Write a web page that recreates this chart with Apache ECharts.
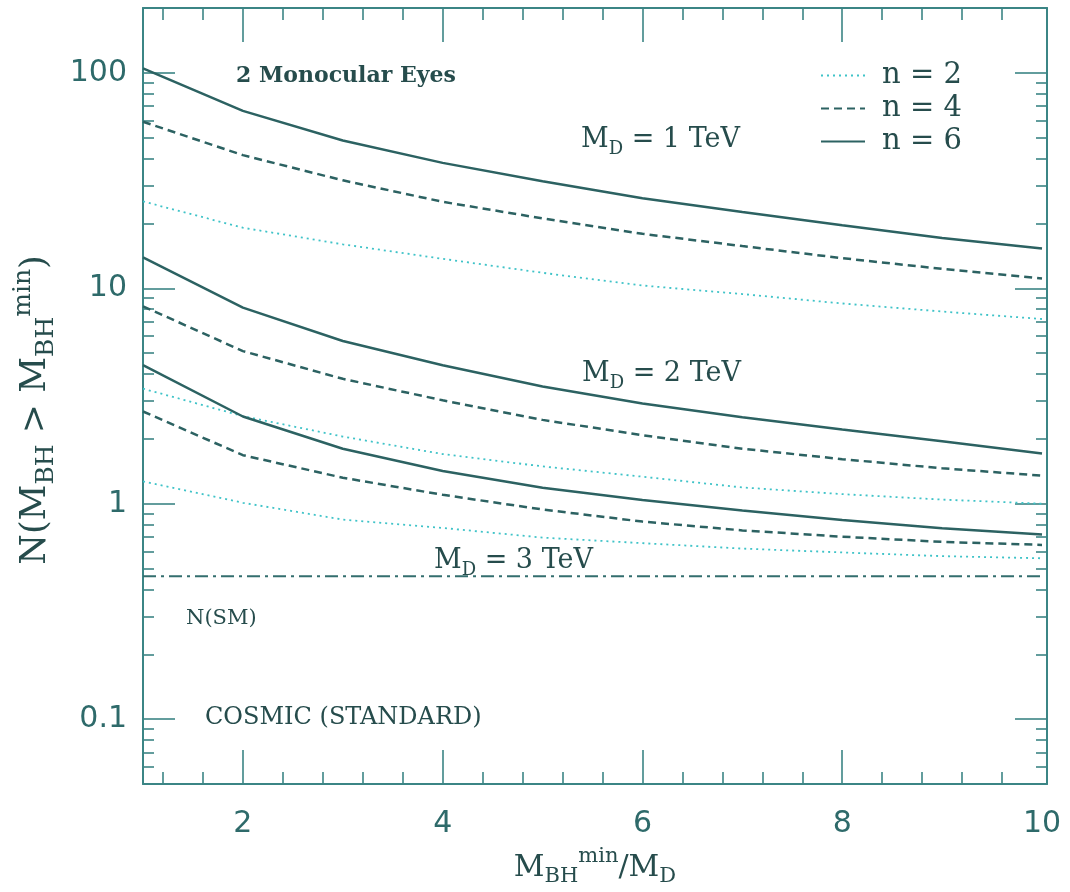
<!DOCTYPE html>
<html>
<head>
<meta charset="utf-8">
<script src="https://cdn.jsdelivr.net/npm/echarts@6/dist/echarts.min.js"></script>
<style>
html,body{margin:0;padding:0;background:#fff;}
#c{width:1070px;height:892px;}
</style>
</head>
<body>
<div id="c"></div>
<script>
// ---- data ----
const xValues = [1, 2, 3, 4, 5, 6, 7, 8, 9, 10];
// M_D = 1 TeV
const md1_n6 = [105, 66.6, 48.5, 38.2, 31.4, 26.2, 22.6, 19.6, 17.1, 15.3];
const md1_n4 = [59.3, 41.5, 31.7, 25.2, 21.1, 17.9, 15.7, 13.8, 12.3, 11.1];
const md1_n2 = [25.3, 19.1, 16.0, 13.7, 11.8, 10.3, 9.4, 8.5, 7.8, 7.2];
// M_D = 2 TeV
const md2_n6 = [13.9, 8.13, 5.69, 4.39, 3.50, 2.92, 2.52, 2.21, 1.95, 1.71];
const md2_n4 = [8.25, 5.11, 3.80, 3.02, 2.45, 2.08, 1.80, 1.61, 1.46, 1.35];
const md2_n2 = [3.42, 2.55, 2.05, 1.70, 1.49, 1.335, 1.19, 1.108, 1.045, 1.0];
// M_D = 3 TeV
const md3_n6 = [4.40, 2.54, 1.80, 1.42, 1.185, 1.04, 0.93, 0.84, 0.77, 0.72];
const md3_n4 = [2.68, 1.68, 1.32, 1.10, 0.94, 0.826, 0.752, 0.703, 0.665, 0.644];
const md3_n2 = [1.27, 1.01, 0.844, 0.772, 0.696, 0.656, 0.619, 0.594, 0.571, 0.558];
// Standard model
const smX = [1, 10];
const smY = [0.46, 0.46];

const legendNames = ['n = 2', 'n = 4', 'n = 6'];
const xMajorTicks = [2, 4, 6, 8];
const xLabelValues = [2, 4, 6, 8, 10];
const xMinorTicks = [1.2, 1.6, 2.4, 2.8, 3.2, 3.6, 4.4, 4.8, 5.2, 5.6, 6.4, 6.8, 7.2, 7.6, 8.4, 8.8, 9.2, 9.6];
const yMajorTicks = [0.1, 1, 10, 100];
const yMinorTicks = [0.06, 0.07, 0.08, 0.09, 0.2, 0.3, 0.4, 0.5, 0.6, 0.7, 0.8, 0.9,
  2, 3, 4, 5, 6, 7, 8, 9, 20, 30, 40, 50, 60, 70, 80, 90];
const X_MIN = 1, X_MAX = 10.05, Y_MIN = 0.05, Y_MAX = 200;

// ---- styles ----
const AXIS_COLOR = '#3b8585';
const TEXT_COLOR = '#264c4c';
const SOLID_COLOR = '#2c6262';
const DOT_COLOR = '#3fc3c8';
const SERIF = '"DejaVu Serif", "Liberation Serif", serif';

const styles = {
  'n = 6': { color: SOLID_COLOR, width: 2.5, type: 'solid' },
  'n = 4': { color: SOLID_COLOR, width: 2.5, type: [8, 5] },
  'n = 2': { color: DOT_COLOR, width: 1.8, type: [2, 4] }
};

function mk(name, vals) {
  return {
    type: 'line', name: name,
    data: xValues.map((x, i) => [x, vals[i]]),
    symbol: 'none', silent: true, animation: false,
    lineStyle: styles[name], itemStyle: { color: styles[name].color }
  };
}

const series = [
  mk('n = 2', md1_n2), mk('n = 4', md1_n4), mk('n = 6', md1_n6),
  mk('n = 2', md2_n2), mk('n = 4', md2_n4), mk('n = 6', md2_n6),
  mk('n = 2', md3_n2), mk('n = 4', md3_n4), mk('n = 6', md3_n6),
  {
    type: 'line', name: 'N(SM)', data: smX.map((x, i) => [x, smY[i]]),
    symbol: 'none', silent: true, animation: false,
    lineStyle: { color: '#336e6e', width: 2, type: [13, 5, 3, 5] }
  }
];

function xAx(pos, ticks, len, showLine, labels) {
  return {
    type: 'value', min: X_MIN, max: X_MAX, position: pos,
    axisLine: { show: showLine, onZero: false, lineStyle: { color: AXIS_COLOR, width: 2 } },
    axisTick: { show: true, inside: true, length: len, customValues: ticks, lineStyle: { color: AXIS_COLOR, width: 1.6 } },
    axisLabel: labels ? {
      show: true, customValues: labels, margin: 25,
      fontFamily: '"DejaVu Sans", sans-serif', fontSize: 30, color: '#2e6a6a'
    } : { show: false },
    splitLine: { show: false }
  };
}
function yAx(pos, ticks, len, showLine, labels) {
  return {
    type: 'log', logBase: 10, min: Y_MIN, max: Y_MAX, position: pos,
    axisLine: { show: showLine, lineStyle: { color: AXIS_COLOR, width: 2 } },
    axisTick: { show: true, inside: true, length: len, customValues: ticks, lineStyle: { color: AXIS_COLOR, width: 1.6 } },
    axisLabel: labels ? {
      show: true, customValues: labels, margin: 16,
      fontFamily: '"DejaVu Sans", sans-serif', fontSize: 30, color: '#2e6a6a',
      formatter: v => String(+(+v).toPrecision(6))
    } : { show: false },
    splitLine: { show: false }, minorTick: { show: false }
  };
}

const chart = echarts.init(document.getElementById('c'), null, { renderer: 'canvas' });

const annRich = (size) => ({
  a: { fontFamily: SERIF, fontSize: size, color: TEXT_COLOR },
  s: { fontFamily: SERIF, fontSize: Math.round(size * 0.66), color: TEXT_COLOR, padding: [18, 0, 0, 0] }
});

function mdLabel(tev, x, yMid) {
  return {
    type: 'text', silent: true, x: x, y: yMid,
    style: {
      text: '{a|M}{s|D}{a| = ' + tev + ' TeV}', rich: annRich(27),
      align: 'left', verticalAlign: 'middle', fill: TEXT_COLOR
    }
  };
}

chart.setOption({
  animation: false,
  backgroundColor: '#ffffff',
  grid: { left: 143, right: 23, top: 8, bottom: 108, containLabel: false },
  xAxis: [
    xAx('bottom', xMajorTicks, 34, true, xLabelValues),
    xAx('bottom', xMinorTicks, 12, false, null),
    xAx('top', xMajorTicks, 34, true, null),
    xAx('top', xMinorTicks, 12, false, null)
  ],
  yAxis: [
    yAx('left', yMajorTicks, 32, true, yMajorTicks),
    yAx('left', yMinorTicks, 11, false, null),
    yAx('right', yMajorTicks, 32, true, null),
    yAx('right', yMinorTicks, 11, false, null)
  ],
  legend: {
    data: legendNames, orient: 'vertical', left: 815, top: 56,
    itemWidth: 44, itemHeight: 14, itemGap: 4,
    selectedMode: false,
    itemStyle: { opacity: 0 },
    textStyle: { fontFamily: SERIF, fontSize: 29, color: TEXT_COLOR, lineHeight: 29, padding: [0, 0, 0, 12] }
  },
  series: series,
  graphic: [
    {
      type: 'text', silent: true, x: 236, y: 76,
      style: { text: '2 Monocular Eyes', fontFamily: SERIF, fontSize: 22, fontWeight: 'bold',
        fill: TEXT_COLOR, align: 'left', verticalAlign: 'middle' }
    },
    mdLabel(1, 581, 140),
    mdLabel(2, 582, 374),
    mdLabel(3, 434, 561),
    {
      type: 'text', silent: true, x: 186, y: 619,
      style: { text: 'N(SM)', fontFamily: SERIF, fontSize: 21, fill: TEXT_COLOR, align: 'left', verticalAlign: 'middle' }
    },
    {
      type: 'text', silent: true, x: 205, y: 718,
      style: { text: 'COSMIC (STANDARD)', fontFamily: SERIF, fontSize: 24, fill: TEXT_COLOR, align: 'left', verticalAlign: 'middle' }
    },
    {
      // x axis title
      type: 'text', silent: true, x: 595, y: 868,
      style: {
        text: '{a|M}{s|BH}{p|min}{a|/M}{s|D}',
        rich: {
          a: { fontFamily: SERIF, fontSize: 30, color: TEXT_COLOR },
          s: { fontFamily: SERIF, fontSize: 21, color: TEXT_COLOR, padding: [18, 0, 0, 0] },
          p: { fontFamily: SERIF, fontSize: 21, color: TEXT_COLOR, padding: [0, 0, 22, 0] }
        },
        align: 'center', verticalAlign: 'middle', fill: TEXT_COLOR
      }
    },
    {
      // y axis title
      type: 'text', silent: true, x: 36, y: 410, rotation: Math.PI / 2,
      style: {
        text: '{a|N(M}{s|BH}{a| > M}{s|BH}{p|min}{a|)}',
        rich: {
          a: { fontFamily: SERIF, fontSize: 35, color: TEXT_COLOR },
          s: { fontFamily: SERIF, fontSize: 25, color: TEXT_COLOR, padding: [20, 0, 0, 0] },
          p: { fontFamily: SERIF, fontSize: 25, color: TEXT_COLOR, padding: [0, 0, 26, 0] }
        },
        align: 'center', verticalAlign: 'middle', fill: TEXT_COLOR
      }
    }
  ]
});
</script>
</body>
</html>
